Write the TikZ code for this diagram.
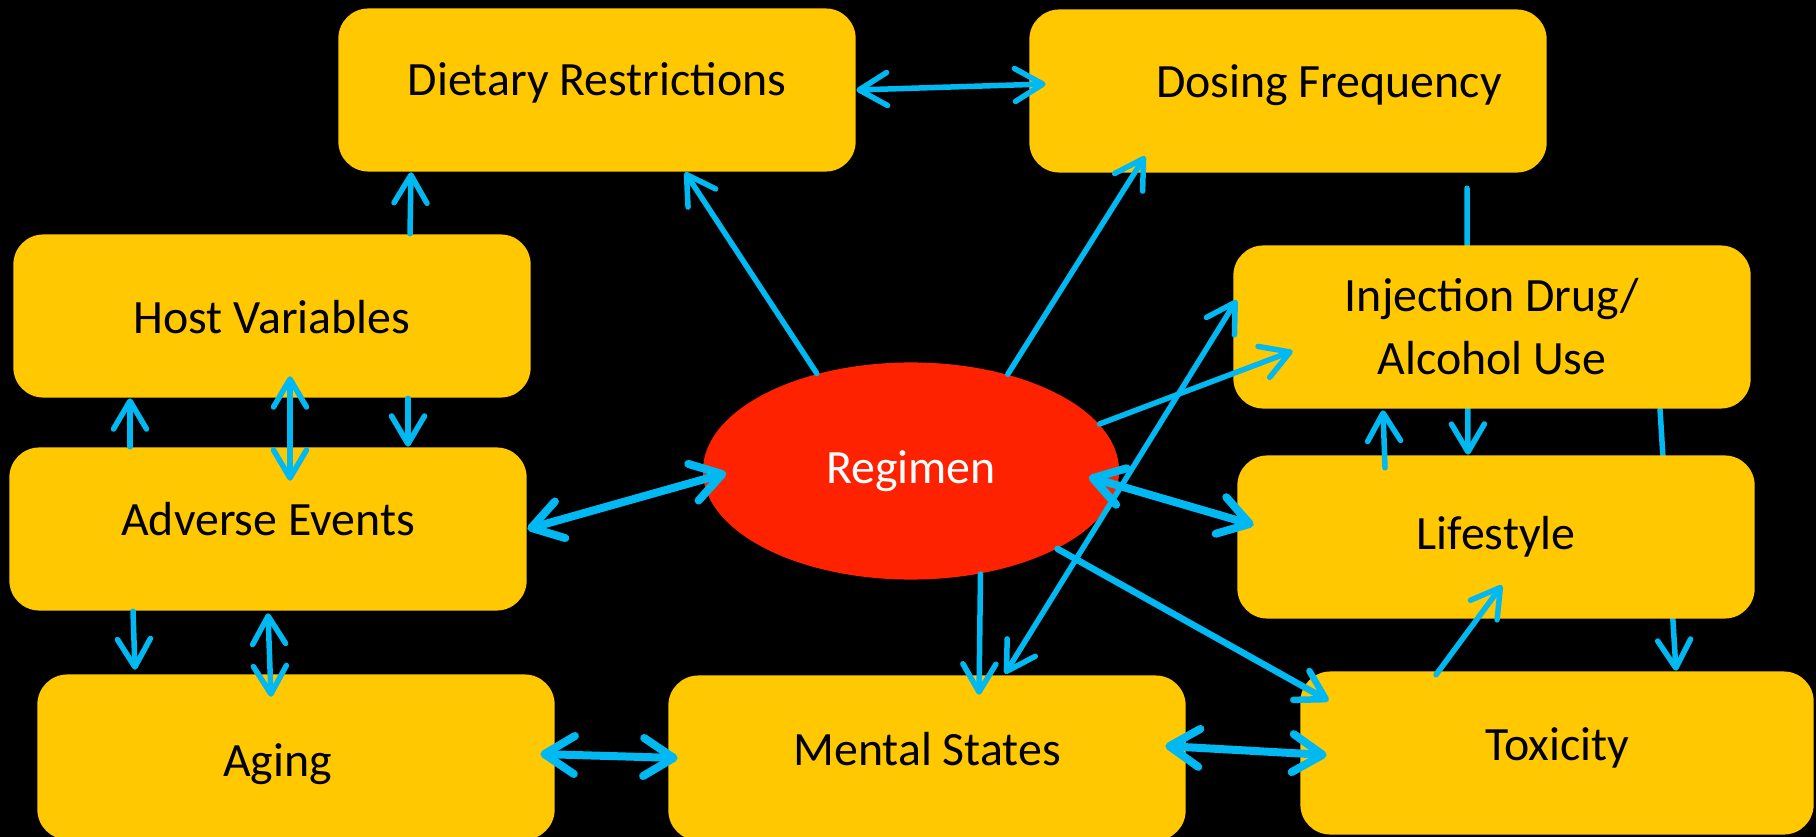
\documentclass[tikz,border=0pt]{standalone}
\usepackage{fontspec}
\setmainfont{Carlito}
\usetikzlibrary{shapes.geometric,arrows.meta,calc,backgrounds}
\definecolor{boxyellow}{RGB}{255,200,0}
\definecolor{regred}{RGB}{255,34,0}
\definecolor{linkblue}{RGB}{0,185,242}

\begin{document}
\begin{tikzpicture}[x=0.01cm,y=-0.01cm,
                    factor/.style={rectangle,rounded corners=0.3cm,fill=boxyellow,minimum width=5.17cm,
                                   minimum height=1.63cm,inner sep=0pt,align=center,
                                   font=\fontsize{13.6}{17.9}\selectfont},
                    one line/.style={text height=0.36cm,text depth=0.05cm},
                    regimen/.style={ellipse,fill=regred,minimum width=4.16cm,minimum height=2.17cm,
                                    inner sep=0pt,text=white,font=\fontsize{13.6}{16}\selectfont},
                    link/.style={draw=linkblue,line width=0.055cm,line cap=round,
                                 >={Straight Barb[length=0.28cm,width=0.33cm,round]}},
                    heavy/.style={line width=0.08cm,>={Straight Barb[length=0.3cm,width=0.38cm,round]}}]
  \useasboundingbox (0,0) rectangle (1816,837);

  \node[factor,one line] (diet) at (597,90) {\raisebox{0.1cm}{Dietary Restrictions}};
  \node[factor,one line] (dose) at (1288,91) {\raisebox{0.09cm}{\hspace*{0.82cm}Dosing Frequency}};
  \node[factor,one line] (host) at (272,316) {\raisebox{-0.02cm}{Host Variables}};
  \node[factor,one line] (adverse) at (268,529) {\raisebox{0.09cm}{Adverse Events}};
  \node[factor,one line,minimum height=1.65cm] (aging) at (296,757) {\raisebox{-0.035cm}{\hspace*{-0.37cm}Aging}};
  \node[factor,one line,minimum height=1.65cm] (mental) at (927,758) {\raisebox{0.08cm}{Mental States}};
  \node[factor,one line,minimum width=5.13cm] (tox) at (1557,753) {\raisebox{0.08cm}{Toxicity}};
  \node[factor,one line] (life) at (1496,537) {\raisebox{0.03cm}{Lifestyle}};
  \node[factor] (inj) at (1492,327) {Injection Drug/\\Alcohol Use};
  \node[regimen] (reg) at (911,471) {Regimen};

  \path[link]
    (diet.east) edge[<->] ($(dose.west)+(17,-7)$)
    ($(host.north)+(138,0)$) edge[->] ($(diet.south)+(-186,0)$)
    (reg.134) edge[->] ($(diet.south)+(88,0)$)
    (reg.45) edge[->] ($(dose.south)+(-143,-17)$)
    ($(adverse.north)+(-138,0)$) edge[->] ($(host.south)+(-142,0)$)
    ($(host.south)+(18,-22)$) edge[<->] ($(adverse.north)+(22,34)$)
    ($(host.south)+(136,0)$) edge[->] ($(adverse.north)+(140,0)$)
    ($(adverse.south)+(-135,0)$) edge[->] ($(aging.north)+(-161,-4)$)
    ($(adverse.south)+(0,2)$) edge[<->] ($(aging.north)+(-25,23)$)
    (reg.-56) edge[->] ($(mental.north)+(52,20)$)
    (reg.14) edge[->] ($(inj.west)+(60,24)$)
    ($(tox.north)+(-121,4)$) edge[->] ($(life.south)+(6,-34)$)
    ($(life.north)+(-111,13)$) edge[->] ($(inj.south)+(-109,1)$);
  \path[link,line width=0.065cm]
    (reg.-28) edge[->] ($(tox.north west)+(29,30)$);
  \path[link,heavy]
    (adverse.east) edge[<->] ($(reg.west)+(24,2)$)
    ($(aging.east)+(-15,-3)$) edge[<->] ($(mental.west)+(10,0)$)
    ($(reg.east)+(-31,6)$) edge[<->] ($(life.west)+(17,-12)$)
    ($(mental.east)+(-21,-12)$) edge[<->] ($(tox.west)+(27,2)$);
  \path[link]
    ($(mental.north)+(78,-1)$) edge[<->] ($(inj.west)+(4,-27)$);

  % lines that run behind the boxes
  \begin{scope}[on background layer]
    \fill[black] (0,0) rectangle (1816,837);
    \path[link]
      ($(dose.south)+(179,15)$) edge[->] ($(life.north)+(-28,0)$)
      ($(inj.south)+(168,0)$) edge[->] ($(tox.north)+(119,0)$);
  \end{scope}
\end{tikzpicture}
\end{document}
